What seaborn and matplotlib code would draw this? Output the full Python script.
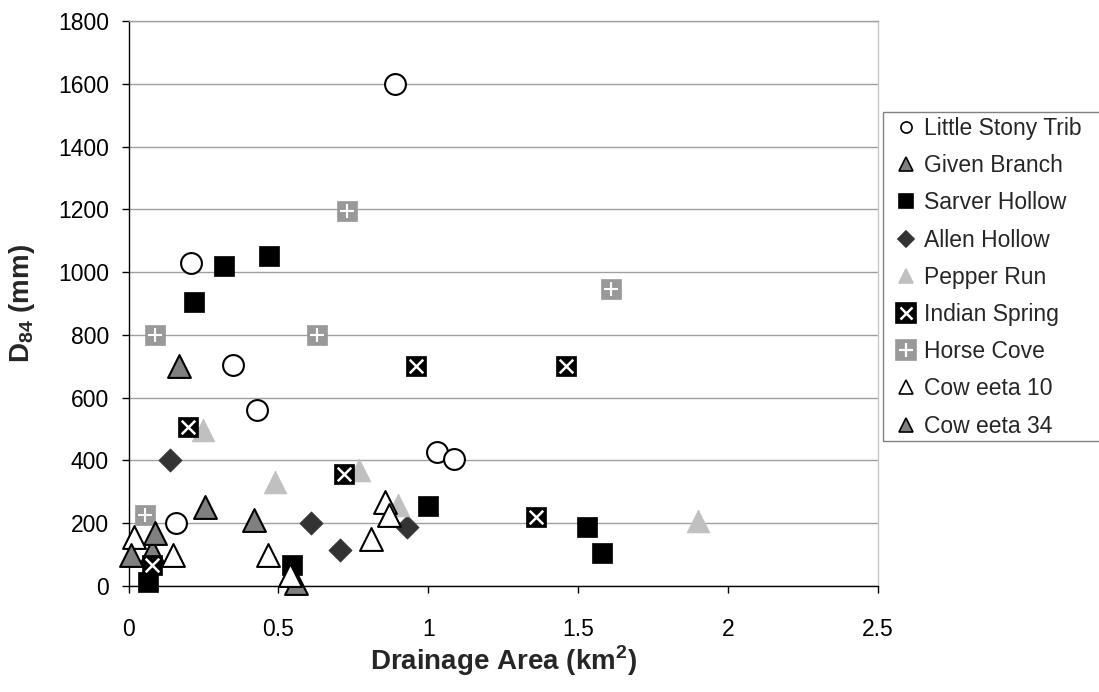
import numpy as np
import pandas as pd
import seaborn as sns
import matplotlib
matplotlib.use("Agg")
import matplotlib.pyplot as plt
from matplotlib.lines import Line2D
from matplotlib.patches import Rectangle

# ---------------- data ----------------
little_stony_x = [0.89, 0.21, 0.35, 0.43, 0.16, 1.03, 1.085]
little_stony_y = [1600, 1030, 705, 560, 200, 425, 405]
given_x = [0.17, 0.255, 0.42, 0.56, 0.08]
given_y = [700, 252, 210, 8, 110]
sarver_x = [0.22, 0.32, 0.47, 0.065, 0.545, 1.0, 1.53, 1.58]
sarver_y = [905, 1020, 1050, 12, 65, 255, 188, 103]
allen_x = [0.14, 0.61, 0.705, 0.93]
allen_y = [400, 200, 115, 188]
pepper_x = [0.25, 0.49, 0.77, 0.90, 1.9]
pepper_y = [497, 332, 370, 257, 205]
indian_x = [0.20, 0.077, 0.72, 0.96, 1.46, 1.36]
indian_y = [507, 66, 355, 700, 700, 220]
horse_x = [0.73, 0.09, 0.63, 0.055, 1.61]
horse_y = [1195, 800, 800, 225, 945]
cow10_x = [0.02, 0.15, 0.465, 0.54, 0.81, 0.855, 0.87]
cow10_y = [155, 98, 98, 35, 148, 268, 225]
cow34_x = [0.01, 0.09]
cow34_y = [98, 167]

series_names = ["Little Stony Trib", "Given Branch", "Sarver Hollow", "Allen Hollow",
                "Pepper Run", "Indian Spring", "Horse Cove", "Cow eeta 10", "Cow eeta 34"]
x_ticks = [0, 0.5, 1, 1.5, 2, 2.5]
x_tick_labels = ["0", "0.5", "1", "1.5", "2", "2.5"]
y_ticks = [0, 200, 400, 600, 800, 1000, 1200, 1400, 1600, 1800]

# ---------------- style ----------------
sns.set_theme(style="white")
plt.rcParams["font.family"] = ["Liberation Sans", "DejaVu Sans"]
plt.rcParams["mathtext.fontset"] = "custom"
plt.rcParams["mathtext.rm"] = "Liberation Sans"
plt.rcParams["mathtext.bf"] = "Liberation Sans:bold"

W, H = 1099, 692
fig = plt.figure(figsize=(W / 100, H / 100), dpi=100)
L, R, T, B = 128.5, 878.0, 21.3, 585.7
ax = fig.add_axes([L / W, 1 - B / H, (R - L) / W, (B - T) / H])

def df(x, y):
    return pd.DataFrame({"x": x, "y": y})

common = dict(ax=ax, clip_on=False, legend=False, zorder=3)
sns.scatterplot(data=df(little_stony_x, little_stony_y), x="x", y="y", marker="o", s=225,
                color="white", edgecolor="black", linewidth=1.5, **common)
sns.scatterplot(data=df(given_x, given_y), x="x", y="y", marker="^", s=270,
                color="#808080", edgecolor="black", linewidth=1.5, **common)
sns.scatterplot(data=df(sarver_x, sarver_y), x="x", y="y", marker="s", s=225,
                color="black", edgecolor="black", linewidth=0.5, **common)
sns.scatterplot(data=df(allen_x, allen_y), x="x", y="y", marker="D", s=140,
                color="#333333", edgecolor="#333333", linewidth=0.5, **common)
sns.scatterplot(data=df(pepper_x, pepper_y), x="x", y="y", marker="^", s=270,
                color="#c0c0c0", edgecolor="#c0c0c0", linewidth=0.5, **common)
sns.scatterplot(data=df(indian_x, indian_y), x="x", y="y", marker="s", s=210,
                color="black", edgecolor="black", linewidth=0.5, **common)
sns.scatterplot(data=df(indian_x, indian_y), x="x", y="y", marker="x", s=95,
                color="white", linewidth=1.8, ax=ax, clip_on=False, legend=False, zorder=3)
sns.scatterplot(data=df(horse_x, horse_y), x="x", y="y", marker="s", s=210,
                color="#999999", edgecolor="#999999", linewidth=0.5, **common)
sns.scatterplot(data=df(horse_x, horse_y), x="x", y="y", marker="+", s=90,
                color="white", linewidth=1.5, ax=ax, clip_on=False, legend=False, zorder=3)
sns.scatterplot(data=df(cow10_x, cow10_y), x="x", y="y", marker="^", s=270,
                color="white", edgecolor="black", linewidth=1.5, **common)
sns.scatterplot(data=df(cow34_x, cow34_y), x="x", y="y", marker="^", s=270,
                color="#808080", edgecolor="black", linewidth=1.5, **common)

ax.set_xlim(0, 2.5)
ax.set_ylim(0, 1800)
ax.set_xticks(x_ticks)
ax.set_xticklabels(x_tick_labels)
ax.set_yticks(y_ticks)
ax.yaxis.grid(True, color="#a0a0a0", linewidth=1.0)
ax.xaxis.grid(False)
ax.set_axisbelow(True)

for side in ["left", "bottom"]:
    ax.spines[side].set_color("black")
    ax.spines[side].set_linewidth(1.0)
ax.spines["right"].set_color("#c8c8c8")
ax.spines["top"].set_color("#a0a0a0")
ax.spines["right"].set_linewidth(1.0)
ax.spines["top"].set_linewidth(1.0)

ax.tick_params(axis="both", direction="out", length=5, width=1, color="black",
               labelsize=16.5, labelcolor="black")
ax.tick_params(axis="x", pad=18, bottom=True)
ax.tick_params(axis="y", pad=9, left=True)

ax.set_xlabel(r"Drainage Area (km$^{\mathbf{2}}$)", fontsize=20, fontweight="bold", labelpad=2)
ax.set_ylabel(r"D$_{\mathbf{84}}$ (mm)", fontsize=20, fontweight="bold", labelpad=15)

# ---------------- legend ----------------
ms = dict(ls="", markeredgewidth=1.2)
handles = [
    Line2D([], [], marker="o", markersize=8, mfc="white", mec="black", **ms),
    Line2D([], [], marker="^", markersize=10, mfc="#808080", mec="black", **ms),
    Line2D([], [], marker="s", markersize=9.5, mfc="black", mec="black", **ms),
    Line2D([], [], marker="D", markersize=8, mfc="#333333", mec="#333333", **ms),
    Line2D([], [], marker="^", markersize=10, mfc="#c0c0c0", mec="#c0c0c0", **ms),
    (Line2D([], [], marker="s", markersize=14, mfc="black", mec="black", **ms),
     Line2D([], [], marker="x", markersize=9, mec="white", ls="", markeredgewidth=1.8)),
    (Line2D([], [], marker="s", markersize=14, mfc="#999999", mec="#999999", **ms),
     Line2D([], [], marker="+", markersize=10, mec="white", ls="", markeredgewidth=1.6)),
    Line2D([], [], marker="^", markersize=10, mfc="white", mec="black", **ms),
    Line2D([], [], marker="^", markersize=10, mfc="#808080", mec="black", **ms),
]
leg = fig.legend(handles, series_names, loc="upper left",
                 bbox_to_anchor=(892 / W, 1 - 117 / H), frameon=False,
                 fontsize=16.5, handlelength=1.2, handletextpad=0.2,
                 labelspacing=0.62, borderpad=0, borderaxespad=0)
fig.add_artist(Rectangle((882.7 / W, 1 - 441 / H), (1110 - 882.7) / W, (441 - 111.7) / H,
                         transform=fig.transFigure, fill=False, edgecolor="#808080",
                         linewidth=1.0, clip_on=False))

fig.savefig("out.png", dpi=100, facecolor="white")
